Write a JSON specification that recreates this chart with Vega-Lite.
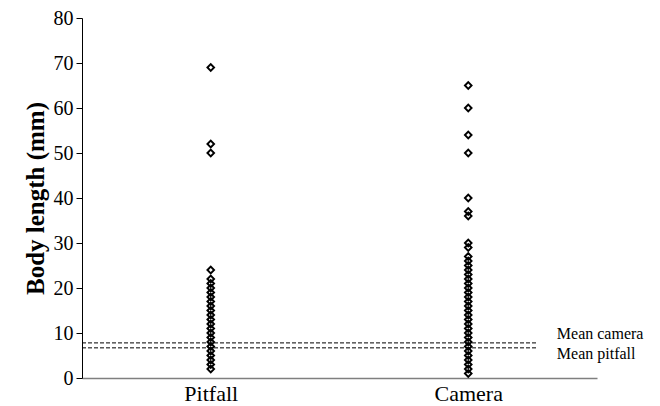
{
  "$schema": "https://vega.github.io/schema/vega-lite/v6.json",
  "width": 515,
  "height": 360,
  "autosize": "none",
  "padding": {"left": 82, "top": 18, "right": 63, "bottom": 28},
  "background": "white",
  "config": {"view": {"stroke": null}, "font": "Liberation Serif"},
  "datasets": {
    "lengths": [
      {"method": "Pitfall", "length": 69},
      {"method": "Pitfall", "length": 52},
      {"method": "Pitfall", "length": 50},
      {"method": "Pitfall", "length": 24},
      {"method": "Pitfall", "length": 22},
      {"method": "Pitfall", "length": 21},
      {"method": "Pitfall", "length": 20},
      {"method": "Pitfall", "length": 19},
      {"method": "Pitfall", "length": 18},
      {"method": "Pitfall", "length": 17},
      {"method": "Pitfall", "length": 16},
      {"method": "Pitfall", "length": 15},
      {"method": "Pitfall", "length": 14},
      {"method": "Pitfall", "length": 13},
      {"method": "Pitfall", "length": 12},
      {"method": "Pitfall", "length": 11},
      {"method": "Pitfall", "length": 10},
      {"method": "Pitfall", "length": 9},
      {"method": "Pitfall", "length": 8},
      {"method": "Pitfall", "length": 7},
      {"method": "Pitfall", "length": 6},
      {"method": "Pitfall", "length": 5},
      {"method": "Pitfall", "length": 4},
      {"method": "Pitfall", "length": 3},
      {"method": "Pitfall", "length": 2},
      {"method": "Camera", "length": 65},
      {"method": "Camera", "length": 60},
      {"method": "Camera", "length": 54},
      {"method": "Camera", "length": 50},
      {"method": "Camera", "length": 40},
      {"method": "Camera", "length": 37},
      {"method": "Camera", "length": 36},
      {"method": "Camera", "length": 30},
      {"method": "Camera", "length": 29},
      {"method": "Camera", "length": 27},
      {"method": "Camera", "length": 26},
      {"method": "Camera", "length": 25},
      {"method": "Camera", "length": 24},
      {"method": "Camera", "length": 23},
      {"method": "Camera", "length": 22},
      {"method": "Camera", "length": 21},
      {"method": "Camera", "length": 20},
      {"method": "Camera", "length": 19},
      {"method": "Camera", "length": 18},
      {"method": "Camera", "length": 17},
      {"method": "Camera", "length": 16},
      {"method": "Camera", "length": 15},
      {"method": "Camera", "length": 14},
      {"method": "Camera", "length": 13},
      {"method": "Camera", "length": 12},
      {"method": "Camera", "length": 11},
      {"method": "Camera", "length": 10},
      {"method": "Camera", "length": 9},
      {"method": "Camera", "length": 8},
      {"method": "Camera", "length": 7},
      {"method": "Camera", "length": 6},
      {"method": "Camera", "length": 5},
      {"method": "Camera", "length": 4},
      {"method": "Camera", "length": 3},
      {"method": "Camera", "length": 2},
      {"method": "Camera", "length": 1}
    ],
    "means": [
      {"label": "Mean camera", "mean": 7.8},
      {"label": "Mean pitfall", "mean": 6.7}
    ]
  },
  "layer": [
    {
      "data": {"name": "lengths"},
      "mark": {"type": "point", "shape": "diamond", "filled": false, "stroke": "black", "strokeWidth": 1.9, "size": 44, "opacity": 1},
      "encoding": {
        "x": {
          "field": "method", "type": "nominal",
          "scale": {"type": "point", "domain": ["Pitfall", "Camera"], "padding": 0.5},
          "axis": {"title": null, "labelAngle": 0, "labelFontSize": 22, "labelColor": "black", "labelFont": "Liberation Serif", "ticks": false, "labelPadding": 5, "domainColor": "#7f7f7f", "domainWidth": 1.5, "grid": false}
        },
        "y": {
          "field": "length", "type": "quantitative",
          "scale": {"domain": [0, 80], "nice": false, "zero": true},
          "axis": {"title": "Body length (mm)", "titleFontSize": 25, "titleFont": "Liberation Serif", "titleFontWeight": "bold", "titleColor": "black", "titlePadding": 5, "values": [0, 10, 20, 30, 40, 50, 60, 70, 80], "labelFontSize": 20, "labelFont": "Liberation Serif", "labelColor": "black", "labelPadding": 3, "tickSize": 6, "tickColor": "black", "domainColor": "black", "grid": false}
        }
      }
    },
    {
      "data": {"name": "means"},
      "mark": {"type": "rule", "stroke": "black", "strokeWidth": 1, "strokeDash": [4, 2]},
      "encoding": {
        "x": {"datum": 0, "type": "quantitative", "scale": {"domain": [0, 1]}, "axis": null},
        "x2": {"datum": 0.885},
        "y": {"field": "mean", "type": "quantitative"}
      }
    },
    {
      "data": {"name": "means"},
      "transform": [{"filter": "datum.label == 'Mean camera'"}],
      "mark": {"type": "text", "align": "left", "baseline": "middle", "dy": -9, "fontSize": 16, "font": "Liberation Serif", "color": "black"},
      "encoding": {
        "x": {"datum": 0.922, "type": "quantitative", "scale": {"domain": [0, 1]}, "axis": null},
        "y": {"field": "mean", "type": "quantitative"},
        "text": {"field": "label"}
      }
    },
    {
      "data": {"name": "means"},
      "transform": [{"filter": "datum.label == 'Mean pitfall'"}],
      "mark": {"type": "text", "align": "left", "baseline": "middle", "dy": 6, "fontSize": 16, "font": "Liberation Serif", "color": "black"},
      "encoding": {
        "x": {"datum": 0.922, "type": "quantitative", "scale": {"domain": [0, 1]}, "axis": null},
        "y": {"field": "mean", "type": "quantitative"},
        "text": {"field": "label"}
      }
    }
  ],
  "resolve": {"scale": {"x": "independent"}}
}
